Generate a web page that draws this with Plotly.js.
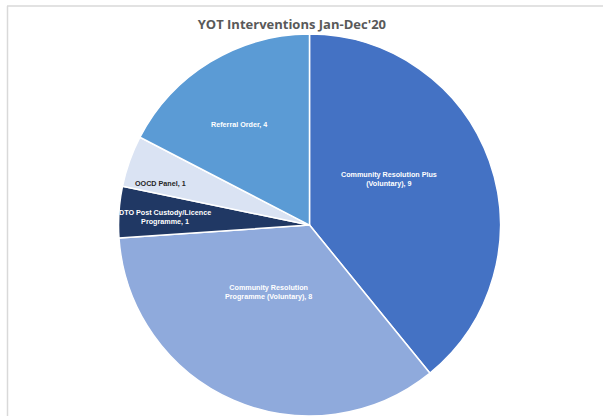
<!DOCTYPE html>
<html>
<head>
<meta charset="utf-8">
<script src="https://cdn.plot.ly/plotly-3.0.1.min.js"></script>
<style>html,body{margin:0;padding:0;background:#fff}#chart{width:603px;height:416px}</style>
</head>
<body>
<div id="chart"></div>
<script>
// Data
const categories = [
  "Community Resolution Plus (Voluntary)",
  "Community Resolution Programme (Voluntary)",
  "DTO Post Custody/Licence Programme",
  "OOCD Panel",
  "Referral Order"
];
const labelLines = [
  ["Community Resolution Plus", "(Voluntary)"],
  ["Community Resolution", "Programme (Voluntary)"],
  ["DTO Post Custody/Licence", "Programme"],
  ["OOCD Panel"],
  ["Referral Order"]
];
const values = [9, 8, 1, 1, 4];
const titleText = "YOT Interventions Jan-Dec'20";

// Styles
const colors = ["#4472C4", "#8FAADC", "#203864", "#DAE3F3", "#5B9BD5"];
const textColors = ["#ffffff", "#ffffff", "#ffffff", "#262626", "#ffffff"];
const labelRadius = [0.48, 0.41, 0.76, 0.81, 0.64];
const labelAngleShift = [-10.6, 8.3, -0.8, -3.9, -3.7]; // degrees

const W = 603, H = 416;
const dom = {x: [0.1965, 0.8300], y: [0.0, 0.918]};
const rPx = Math.min((dom.x[1]-dom.x[0])*W, (dom.y[1]-dom.y[0])*H) / 2;
const cx = (dom.x[0]+dom.x[1])/2, cy = (dom.y[0]+dom.y[1])/2;

const total = values.reduce((a,b)=>a+b,0);
let cum = 0;
const annotations = values.map((v,i)=>{
  const mid = (cum + v/2) / total * 2*Math.PI + labelAngleShift[i]*Math.PI/180;
  cum += v;
  const r = labelRadius[i]*rPx;
  const lines = labelLines[i].slice();
  lines[lines.length-1] += ", " + v;
  return {
    xref: "paper", yref: "paper",
    x: cx + r*Math.sin(mid)/W,
    y: cy + r*Math.cos(mid)/H,
    xanchor: "center", yanchor: "middle",
    text: lines.join("<br>"),
    showarrow: false,
    font: {family: "Liberation Sans, Arial, sans-serif", size: 7.2, color: textColors[i], weight: "bold"},
    align: "center"
  };
});

const trace = {
  type: "pie",
  labels: categories,
  values: values,
  sort: false,
  direction: "clockwise",
  rotation: 0,
  marker: {colors: colors, line: {color: "#ffffff", width: 1.5}},
  textinfo: "none",
  hoverinfo: "label+value",
  domain: dom,
  showlegend: false
};

const layout = {
  width: W, height: H,
  margin: {l: 0, r: 0, t: 0, b: 0},
  paper_bgcolor: "#ffffff",
  showlegend: false,
  title: {
    text: "<b>" + titleText + "</b>",
    x: 0.484, xanchor: "center",
    y: 1 - 24/H, yanchor: "middle",
    font: {family: "Open Sans, Arial, sans-serif", size: 13, color: "#595959"}
  },
  annotations: annotations,
  shapes: [
    {type: "line", xref: "paper", yref: "paper", x0: 7/W, x1: 1, y0: 1-6/H, y1: 1-6/H, line: {color: "#d9d9d9", width: 1.5}},
    {type: "line", xref: "paper", yref: "paper", x0: 7.5/W, x1: 7.5/W, y0: 0, y1: 1-6/H, line: {color: "#d9d9d9", width: 1.5}}
  ]
};

Plotly.newPlot("chart", [trace], layout, {displayModeBar: false, staticPlot: true});
</script>
</body>
</html>
